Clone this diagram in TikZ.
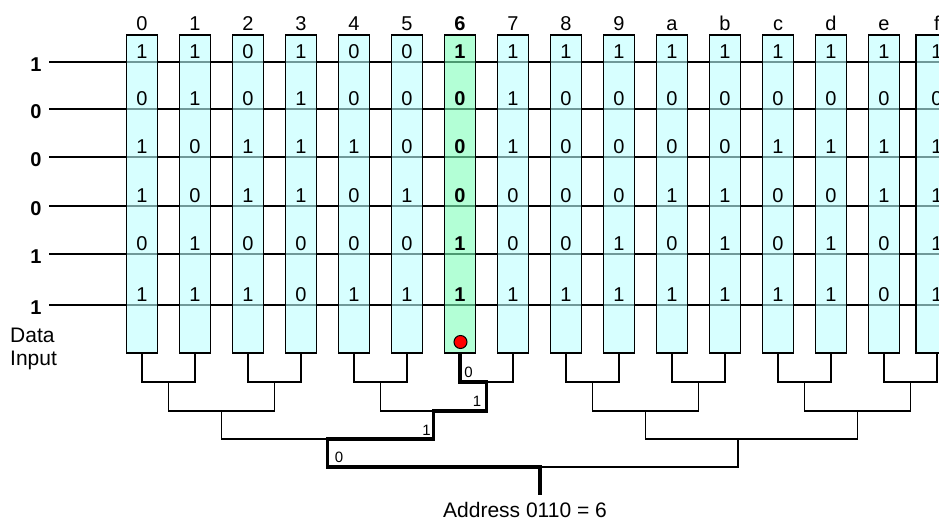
\documentclass[tikz,border=0pt]{standalone}
\usepackage{fontspec}
\setmainfont{Liberation Sans}
\usetikzlibrary{calc}
\definecolor{cyanbase}{RGB}{188,255,255}
\definecolor{greenbase}{RGB}{128,255,187}
\begin{document}
\begin{tikzpicture}[x=1pt,y=-1pt,
  colbox/.style={draw=black,line width=1.4pt,fill=cyanbase,fill opacity=0.6,text opacity=1,
    minimum width=31pt,minimum height=318pt,inner sep=0pt,outer sep=0pt},
  selbox/.style={colbox,fill=greenbase},
  bit/.style={font=\fontsize{20}{22}\selectfont,inner sep=0pt,anchor=base},
  hdr/.style={font=\fontsize{20}{22}\selectfont,inner sep=0pt,anchor=base},
  inlbl/.style={font=\fontsize{20}{22}\selectfont\bfseries,inner sep=0pt,anchor=base},
  side/.style={font=\fontsize{21}{23}\selectfont,inner sep=0pt,anchor=base west},
  rowline/.style={draw=black,line width=1.5pt},
  tree/.style={draw=black,line width=1.5pt,line join=miter},
  hot/.style={draw=black,line width=3.5pt,line join=miter},
  plbl/.style={font=\fontsize{15}{17}\selectfont,inner sep=0pt},
  addr/.style={font=\fontsize{21}{23}\selectfont,inner sep=0pt,anchor=base},
  reddot/.style={circle,draw=black,line width=1pt,fill=red,minimum size=13pt,inner sep=0pt}
]
\useasboundingbox (0,0) rectangle (939,521);
\clip (0,0) rectangle (939,521);
% row input lines and labels
\foreach \r/\y/\v in {1/62/1,2/109/0,3/157/0,4/206/0,5/254/1,6/305/1}{
  \node[inlbl] (l\r) at (36,\y+9.5) {\v};
  \coordinate (rs\r) at (49,\y);
  \coordinate (re\r) at (945,\y);
  \draw[rowline] (rs\r) -- (re\r);
}
% columns
\foreach \i in {0,...,14}{
  \ifnum\i=6
    \node[selbox] (c\i) at ({142+53*\i},194) {};
  \else
    \node[colbox] (c\i) at ({142+53*\i},194) {};
  \fi
}
\node[colbox,minimum width=42pt] (c15) at (937,194) {};
% headers
\foreach \h [count=\k from 0] in {0,1,2,3,4,5,6,7,8,9,a,b,c,d,e,f}{
  \node[hdr] (h\k) at ({142+53*\k},31) {\ifnum\k=6 \bfseries\fi\h};
}
% bits
\foreach \r/\y/\bits in {
  1/62/{1,1,0,1,0,0,1,1,1,1,1,1,1,1,1,1},
  2/109/{0,1,0,1,0,0,0,1,0,0,0,0,0,0,0,0},
  3/157/{1,0,1,1,1,0,0,1,0,0,0,0,1,1,1,1},
  4/206/{1,0,1,1,0,1,0,0,0,0,1,1,0,0,1,1},
  5/254/{0,1,0,0,0,0,1,0,0,1,0,1,0,1,0,1},
  6/305/{1,1,1,0,1,1,1,1,1,1,1,1,1,1,0,1}}{
  \foreach \b [count=\k from 0] in \bits {
    \node[bit] (v\r-\k) at ({142+53*\k},\y-3.5) {\ifnum\k=6 \bfseries\fi\b};
  }
}
% side text
\node[side] (data) at (10,342) {Data};
\node[side] (input) at (10,365) {Input};
% red dot
\node[reddot] (dot) at (460.5,342) {};
% tree coordinates
\foreach \k in {0,...,7}{ \coordinate (a\k) at ({168.5+106*\k},382); }
\foreach \j in {0,...,3}{ \coordinate (b\j) at ({221.5+212*\j},411); }
\coordinate (d0) at (327.5,439);
\coordinate (d1) at (738,439);
\coordinate (e) at (540,467);
\coordinate (stemend) at (540,495);
% thin tree
\foreach \k [evaluate=\k as \l using int(2*\k), evaluate=\k as \m using int(2*\k+1)] in {0,...,7}{
  \draw[tree] (c\l.south) |- (a\k) -| (c\m.south);
}
\foreach \j [evaluate=\j as \l using int(2*\j), evaluate=\j as \m using int(2*\j+1)] in {0,...,3}{
  \draw[tree] (a\l) |- (b\j) -| (a\m);
}
\draw[tree] (b0) |- (d0) -| (b1);
\draw[tree] (b2) |- (d1) -| (b3);
\draw[tree] (d0) |- (e) -| (d1);
% selected path
\draw[hot] (c6.south) |- (a3) |- (b1) |- (d0) |- (e) -- (stemend);
\node[plbl] (p0) at (468.5,372) {0};
\node[plbl] (p1) at (477,401.5) {1};
\node[plbl] (p2) at (426.5,430) {1};
\node[plbl] (p3) at (339,457) {0};
% address
\node[addr] (address) at (525,517) {Address 0110 = 6};
\end{tikzpicture}
\end{document}
